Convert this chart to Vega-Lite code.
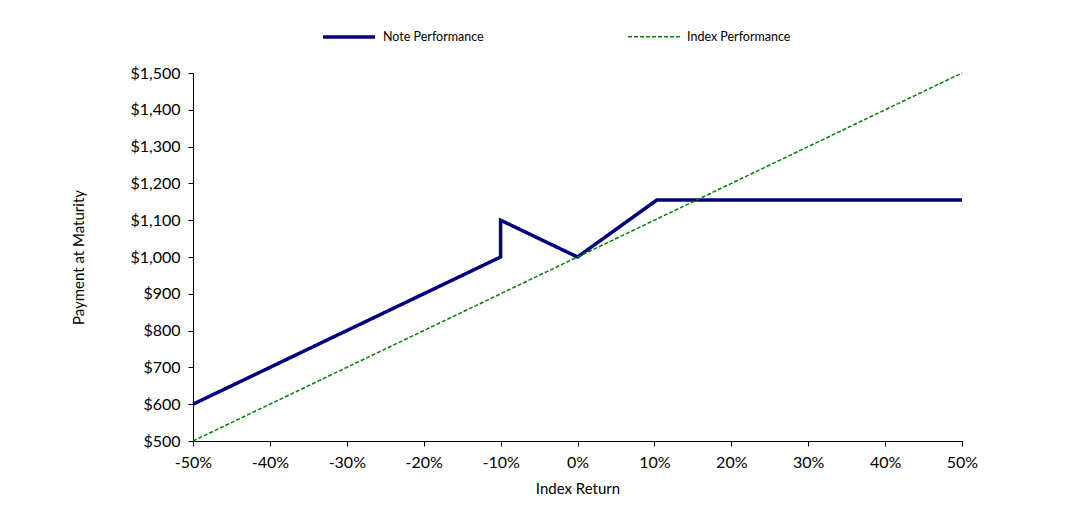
{
  "$schema": "https://vega.github.io/schema/vega-lite/v6.json",
  "autosize": {"type": "none"},
  "padding": {"left": 193, "top": 73, "right": 110, "bottom": 64},
  "width": 769,
  "height": 368,
  "background": "white",
  "config": {
    "view": {"stroke": null},
    "font": "Lato",
    "axis": {"labelFont": "Lato", "titleFont": "Lato", "labelColor": "black", "titleColor": "black", "domainColor": "black", "tickColor": "black", "grid": false, "labelFontSize": 16, "titleFontSize": 15, "titleFontWeight": "normal", "tickSize": 5, "labelFlush": false}
  },
  "data": {
    "values": [
      {"series": "Note Performance", "ord": 1, "ret": -50, "pay": 600},
      {"series": "Note Performance", "ord": 2, "ret": -10, "pay": 1000},
      {"series": "Note Performance", "ord": 3, "ret": -10, "pay": 1100},
      {"series": "Note Performance", "ord": 4, "ret": 0, "pay": 1000},
      {"series": "Note Performance", "ord": 5, "ret": 10.33, "pay": 1155},
      {"series": "Note Performance", "ord": 6, "ret": 50, "pay": 1155},
      {"series": "Index Performance", "ord": 1, "ret": -50, "pay": 500},
      {"series": "Index Performance", "ord": 2, "ret": 50, "pay": 1500}
    ]
  },
  "mark": {"type": "line", "clip": false},
  "encoding": {
    "x": {"field": "ret", "type": "quantitative", "scale": {"domain": [-50, 50], "nice": false}, "axis": {"values": [-50, -40, -30, -20, -10, 0, 10, 20, 30, 40, 50], "labelExpr": "datum.value + '%'", "title": "Index Return", "titlePadding": 11, "labelPadding": 8}},
    "y": {"field": "pay", "type": "quantitative", "scale": {"domain": [500, 1500], "nice": false, "zero": false}, "axis": {"values": [500, 600, 700, 800, 900, 1000, 1100, 1200, 1300, 1400, 1500], "format": "$,.0f", "title": "Payment at Maturity", "titlePadding": 43, "labelPadding": 8}},
    "order": {"field": "ord", "type": "quantitative"},
    "color": {"field": "series", "type": "nominal", "scale": {"domain": ["Note Performance", "Index Performance"], "range": ["#000080", "#008000"]},
      "legend": {"title": null, "orient": "none", "legendX": 128, "legendY": -64, "direction": "horizontal", "symbolType": "stroke", "symbolSize": 2700, "labelFontSize": 12.5, "labelFont": "Lato", "labelColor": "black", "columnPadding": 141, "labelOffset": 6}},
    "strokeWidth": {"field": "series", "type": "nominal", "scale": {"domain": ["Note Performance", "Index Performance"], "range": [3.5, 1.5]}, "legend": null},
    "strokeDash": {"field": "series", "type": "nominal", "scale": {"domain": ["Note Performance", "Index Performance"], "range": [[1, 0], [4, 2]]}, "legend": null}
  }
}
